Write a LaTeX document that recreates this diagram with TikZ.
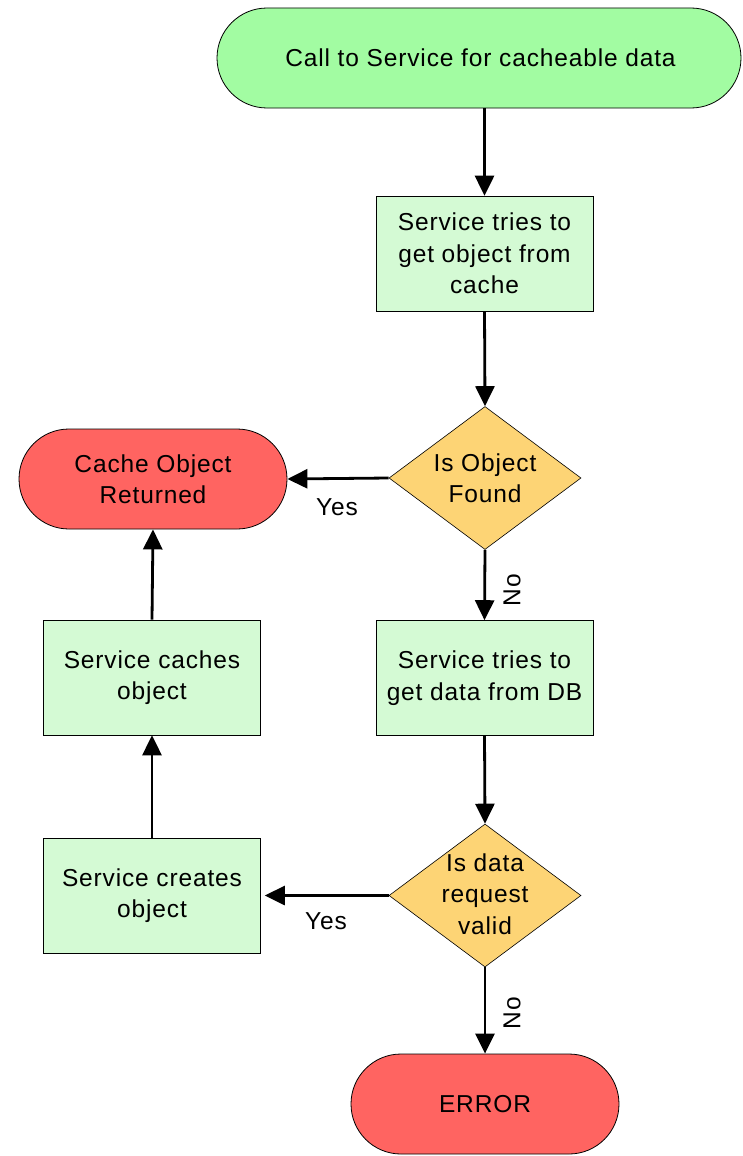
\documentclass[tikz,border=0pt]{standalone}
\usepackage{fontspec}
\setmainfont[LetterSpace=3.5]{Liberation Sans}
\usetikzlibrary{shapes.geometric,arrows.meta}
\definecolor{termgreen}{HTML}{A2FCA2}
\definecolor{boxgreen}{HTML}{D4FAD4}
\definecolor{diaorange}{HTML}{FDD475}
\definecolor{termred}{HTML}{FF6461}
\tikzset{
  txt/.style={font=\fontsize{24.5}{31.5}\selectfont, align=center, text=black},
  term/.style={draw=black, line width=0.8pt, rounded corners=50pt, minimum height=100pt, inner sep=0pt, txt},
  procbox/.style={draw=black, line width=0.6pt, fill=boxgreen, minimum width=217pt, minimum height=115pt, inner sep=0pt, txt},
  dia/.style={draw=black, line width=0.6pt, fill=diaorange, shape=diamond, minimum width=192pt, minimum height=143pt, inner sep=0pt},
  conn/.style={line width=2.8pt, -{Triangle[length=20pt,width=19pt]}},
  lbl/.style={font=\fontsize{24.5}{28}\selectfont, text=black}
}
\begin{document}
\begin{tikzpicture}[x=1pt,y=-1pt]
\useasboundingbox (0,0) rectangle (742,1156);
% nodes
\node[term, fill=termgreen, minimum width=524pt] (start) at (479,58) {\hspace*{3pt}Call to Service for cacheable data};
\node[procbox] (b1) at (484.5,253.5) {Service tries to\\get object from\\cache};
\node[dia] (d1) at (485,478) {};
\node[txt] (d1t) at (485,478) {Is Object\\Found};
\node[term, fill=termred, minimum width=268pt] (ret) at (153,479) {Cache Object\\Returned};
\node[procbox] (b2) at (484.5,678) {Service tries to\\get data from DB};
\node[dia] (d2) at (485,895.5) {};
\node[txt] (d2t) at (485,894) {Is data\\request\\valid};
\node[procbox] (caches) at (152,677.5) {Service caches\\object};
\node[procbox] (creates) at (152,895.5) {Service creates\\object};
\node[term, fill=termred, minimum width=268pt] (err) at (485,1104) {ERROR};
% connectors
\draw[conn] (b1.north |- start.south) -- (b1.north);
\draw[conn] (b1.south) -- (d1.north);
\draw[conn] (d1.west) -- (ret.east);
\draw[conn] (d1.south) -- (b2.north);
\draw[conn] (b2.south) -- (d2.north);
\draw[conn, shorten >=4pt] (d2.west) -- (creates.east);
\draw[conn] (d2.south) -- (err.north);
\draw[conn] (creates.north) -- (caches.south);
\draw[conn] (caches.north) -- (ret.south);
% labels
\node[lbl] (yes1) at (337,507) {Yes};
\node[lbl, rotate=90] (no1) at (512,590) {No};
\node[lbl] (yes2) at (326,921) {Yes};
\node[lbl, rotate=90] (no2) at (512,1013) {No};
\end{tikzpicture}
\end{document}
